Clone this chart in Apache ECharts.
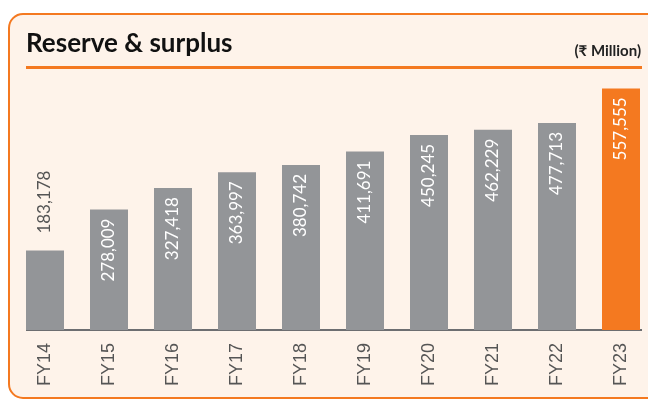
<!DOCTYPE html>
<html>
<head>
<meta charset="utf-8">
<script src="https://cdn.jsdelivr.net/npm/echarts@6/dist/echarts.min.js"></script>
<style>
  html, body { margin: 0; padding: 0; background: #fff; }
  #chart { width: 648px; height: 400px; }
</style>
</head>
<body>
<div id="chart"></div>
<script>
const years = ["FY14", "FY15", "FY16", "FY17", "FY18", "FY19", "FY20", "FY21", "FY22", "FY23"];
const reserves = [183178, 278009, 327418, 363997, 380742, 411691, 450245, 462229, 477713, 557555];

const grey = "#939598";
const orange = "#f47920";

const chart = echarts.init(document.getElementById("chart"));

// last bar is highlighted, first label sits above its (short) bar
const barData = reserves.map((v, i) => {
  const item = { value: v };
  if (i === reserves.length - 1) {
    item.itemStyle = { color: orange };
  }
  if (i === 0) {
    item.label = {
      position: "top",
      align: "left",
      distance: 17,
      color: "#555"
    };
  }
  return item;
});

chart.setOption({
  animation: false,
  backgroundColor: "#fff",
  graphic: [
    {
      type: "rect",
      z: -10,
      shape: { x: 9, y: 14, width: 680, height: 384, r: 14 },
      style: { fill: "#fef3ea", stroke: orange, lineWidth: 2 }
    },
    {
      type: "text",
      left: 26,
      top: 31,
      style: {
        text: "Reserve & surplus",
        font: "bold 26px Lato",
        fill: "#111"
      }
    },
    {
      type: "text",
      right: 7,
      top: 44,
      style: {
        text: "(₹ Million)",
        font: "bold 15px Lato, 'Noto Sans'",
        fill: "#222"
      }
    },
    {
      type: "rect",
      shape: { x: 26, y: 66, width: 616, height: 3 },
      style: { fill: orange }
    },
    {
      type: "rect",
      shape: { x: 26, y: 329, width: 616, height: 2 },
      style: { fill: "#6d6e71" }
    }
  ],
  grid: { left: 13, width: 640, top: 70, bottom: 70, outerBoundsMode: "none" },
  xAxis: {
    type: "category",
    data: years,
    axisLine: { show: false },
    axisTick: { show: false },
    axisLabel: {
      rotate: 90,
      margin: 13,
      color: "#555",
      fontSize: 18,
      fontFamily: "Liberation Sans"
    }
  },
  yAxis: {
    type: "value",
    min: 0,
    max: 600000,
    show: false,
    splitLine: { show: false }
  },
  series: [{
    type: "bar",
    data: barData,
    barWidth: 38,
    itemStyle: { color: grey },
    label: {
      show: true,
      position: "insideTop",
      rotate: 90,
      align: "right",
      verticalAlign: "middle",
      distance: 9,
      color: "#fff",
      fontSize: 17,
      fontFamily: "Lato",
      formatter: p => p.value.toLocaleString("en-US")
    }
  }]
});
</script>
</body>
</html>
